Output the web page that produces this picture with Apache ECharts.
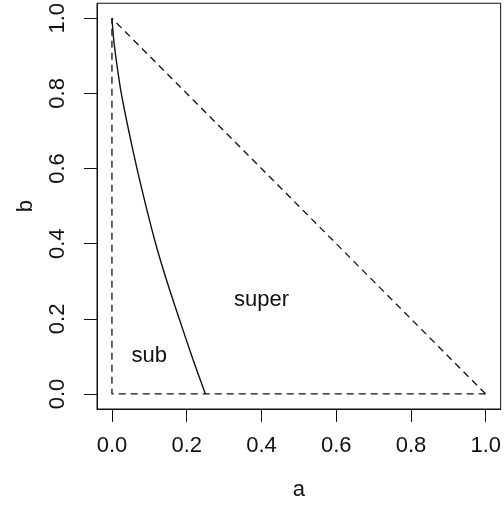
<!DOCTYPE html>
<html>
<head>
<meta charset="utf-8">
<script src="https://cdn.jsdelivr.net/npm/echarts@6/dist/echarts.min.js"></script>
<style>html,body{margin:0;padding:0;background:#fff;}#c{width:504px;height:506px;}</style>
</head>
<body>
<div id="c"></div>
<script>
// boundary curve between "sub" and "super" regions (a, b)
var curveA = [0, 0.004, 0.010, 0.017, 0.025, 0.045, 0.067, 0.091, 0.117, 0.147, 0.180, 0.214, 0.25];
var curveB = [1, 0.95, 0.90, 0.85, 0.80, 0.70, 0.60, 0.50, 0.40, 0.30, 0.20, 0.10, 0];
// dashed triangle
var triA = [1, 0, 0, 1];
var triB = [0, 0, 1, 0];
// region labels
var labelText = ['super', 'sub'];
var labelA = [0.4, 0.1];
var labelB = [0.25, 0.1];
// ticks
var tickValues = [0, 0.2, 0.4, 0.6, 0.8, 1.0];

function pairs(xs, ys) { return xs.map(function (x, i) { return [x, ys[i]]; }); }

var FONT = "'Liberation Sans', Arial, Helvetica, sans-serif";
var INK = '#111';
var FS = 22;

var chart = echarts.init(document.getElementById('c'), null, {renderer: 'canvas'});
chart.setOption({
  animation: false,
  backgroundColor: '#fff',
  textStyle: {fontFamily: FONT},
  grid: {left: 97, right: 2, top: 2, bottom: 97, show: true, borderColor: INK, borderWidth: 1, backgroundColor: 'transparent'},
  xAxis: {
    type: 'value', min: -0.04, max: 1.04,
    name: 'a', nameLocation: 'middle', nameGap: 70,
    nameTextStyle: {fontSize: FS, color: INK, fontFamily: FONT},
    axisLine: {show: true, onZero: false, lineStyle: {color: INK, width: 1}},
    axisTick: {show: true, inside: false, length: 13, lineStyle: {color: INK}, customValues: tickValues},
    axisLabel: {show: true, fontSize: FS, color: INK, fontFamily: FONT, margin: 26, customValues: tickValues,
      formatter: function (v) { return v.toFixed(1); }},
    splitLine: {show: false}
  },
  yAxis: {
    type: 'value', min: -0.04, max: 1.04,
    name: 'b', nameLocation: 'middle', nameGap: 60, nameRotate: 90,
    nameTextStyle: {fontSize: FS, color: INK, fontFamily: FONT},
    axisLine: {show: true, onZero: false, lineStyle: {color: INK, width: 1}},
    axisTick: {show: true, inside: false, length: 13, lineStyle: {color: INK}, customValues: tickValues},
    axisLabel: {show: true, fontSize: FS, color: INK, fontFamily: FONT, margin: 28, rotate: 90, customValues: tickValues,
      formatter: function (v) { return v.toFixed(1); }},
    splitLine: {show: false}
  },
  series: [
    {
      type: 'line', data: pairs(triA, triB), symbol: 'none',
      lineStyle: {color: INK, width: 1.3, type: [7, 5]}, z: 2
    },
    {
      type: 'line', data: pairs(curveA, curveB), symbol: 'none', smooth: 0.3,
      lineStyle: {color: INK, width: 1.4}, z: 3
    },
    {
      type: 'scatter', symbolSize: 0, itemStyle: {opacity: 1},
      data: labelText.map(function (t, i) { return {name: t, value: [labelA[i], labelB[i]]}; }),
      label: {show: true, position: 'inside', formatter: '{b}', fontSize: FS, color: INK, opacity: 1, fontFamily: FONT},
      z: 4
    }
  ]
});
</script>
</body>
</html>
